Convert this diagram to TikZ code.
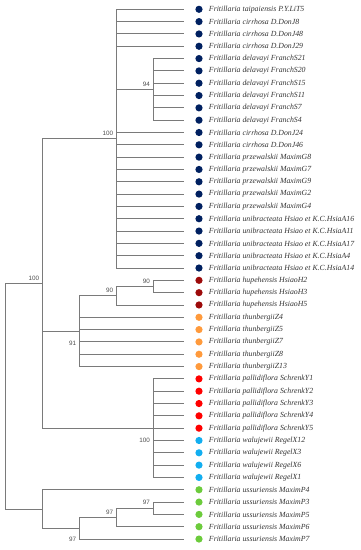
\documentclass[tikz,border=0pt]{standalone}
\usepackage{fontspec}
\setmainfont{Liberation Serif}
\newfontfamily\bootfont{Liberation Sans}
\usepackage{tikz}
\usetikzlibrary{positioning}

\definecolor{navyclade}{HTML}{002060}
\definecolor{darkredclade}{HTML}{9C0A0A}
\definecolor{orangeclade}{HTML}{FF9A3C}
\definecolor{redclade}{HTML}{FF0000}
\definecolor{skyclade}{HTML}{12AEF0}
\definecolor{greenclade}{HTML}{6CCB3C}
\definecolor{branchgray}{HTML}{7A7A7A}

\begin{document}
\begin{tikzpicture}[x=1pt,y=-12.32pt,
  branch/.style={draw=branchgray,line width=0.9pt},
  tipdot/.style={circle,inner sep=0pt,minimum size=7.2pt},
  taxon/.style={anchor=west,inner sep=0pt,font=\fontsize{7.8}{9}\selectfont\itshape,text=black!80},
  boot/.style={font=\bootfont\fontsize{6.3}{7}\selectfont,text=black!70,inner sep=0pt}]
  \useasboundingbox (0,0.245) rectangle (361,44.89);
  % internal nodes
  \coordinate (R) at (5.3,32.406);
  \coordinate (A) at (42.3,23.25);
  \coordinate (B) at (116.3,11.5);
  \coordinate (D) at (153,7.5);
  \coordinate (HT) at (79.3,27.125);
  \coordinate (Hn) at (116.3,24.25);
  \coordinate (HH) at (153,23.5);
  \coordinate (PW) at (153,35);
  \coordinate (U) at (42.3,41.5625);
  \coordinate (U1) at (79.3,43.125);
  \coordinate (U2) at (116.3,42.25);
  \coordinate (U3) at (153,41.5);
  \foreach \a/\b in {R/A,R/U,A/B,A/HT,A/PW,B/D,HT/Hn,Hn/HH,U/U1,U1/U2,U2/U3}
    \draw[branch] (\a) |- (\b);
  % tips
  \foreach \i/\nm/\col/\up in {
    1/{taipaiensis P.Y.LiT5}/navyclade/B,
    2/{cirrhosa D.DonJ8}/navyclade/B,
    3/{cirrhosa D.DonJ48}/navyclade/B,
    4/{cirrhosa D.DonJ29}/navyclade/B,
    5/{delavayi FranchS21}/navyclade/D,
    6/{delavayi FranchS20}/navyclade/D,
    7/{delavayi FranchS15}/navyclade/D,
    8/{delavayi FranchS11}/navyclade/D,
    9/{delavayi FranchS7}/navyclade/D,
    10/{delavayi FranchS4}/navyclade/D,
    11/{cirrhosa D.DonJ24}/navyclade/B,
    12/{cirrhosa D.DonJ46}/navyclade/B,
    13/{przewalskii MaximG8}/navyclade/B,
    14/{przewalskii MaximG7}/navyclade/B,
    15/{przewalskii MaximG9}/navyclade/B,
    16/{przewalskii MaximG2}/navyclade/B,
    17/{przewalskii MaximG4}/navyclade/B,
    18/{unibracteata Hsiao et K.C.HsiaA16}/navyclade/B,
    19/{unibracteata Hsiao et K.C.HsiaA11}/navyclade/B,
    20/{unibracteata Hsiao et K.C.HsiaA17}/navyclade/B,
    21/{unibracteata Hsiao et K.C.HsiaA4}/navyclade/B,
    22/{unibracteata Hsiao et K.C.HsiaA14}/navyclade/B,
    23/{hupehensis HsiaoH2}/darkredclade/HH,
    24/{hupehensis HsiaoH3}/darkredclade/HH,
    25/{hupehensis HsiaoH5}/darkredclade/Hn,
    26/{thunbergiiZ4}/orangeclade/HT,
    27/{thunbergiiZ5}/orangeclade/HT,
    28/{thunbergiiZ7}/orangeclade/HT,
    29/{thunbergiiZ8}/orangeclade/HT,
    30/{thunbergiiZ13}/orangeclade/HT,
    31/{pallidiflora SchrenkY1}/redclade/PW,
    32/{pallidiflora SchrenkY2}/redclade/PW,
    33/{pallidiflora SchrenkY3}/redclade/PW,
    34/{pallidiflora SchrenkY4}/redclade/PW,
    35/{pallidiflora SchrenkY5}/redclade/PW,
    36/{walujewii RegelX12}/skyclade/PW,
    37/{walujewii RegelX3}/skyclade/PW,
    38/{walujewii RegelX6}/skyclade/PW,
    39/{walujewii RegelX1}/skyclade/PW,
    40/{ussuriensis MaximP4}/greenclade/U,
    41/{ussuriensis MaximP3}/greenclade/U3,
    42/{ussuriensis MaximP5}/greenclade/U3,
    43/{ussuriensis MaximP6}/greenclade/U2,
    44/{ussuriensis MaximP7}/greenclade/U1}
  {
    \node[tipdot,fill=\col] (d\i) at (199,\i) {};
    \node[taxon,right=6pt of d\i] (n\i) {Fritillaria \nm};
    \draw[branch,shorten >=11pt] (\up) |- (d\i);
  }
  % bootstrap values
  \node[boot,anchor=south east] (bA) at ([xshift=-3pt,yshift=3pt]A) {100};
  \node[boot,anchor=south east] (bB) at ([xshift=-3pt,yshift=3pt]B) {100};
  \node[boot,anchor=south east] (bD) at ([xshift=-3pt,yshift=3pt]D) {94};
  \node[boot,anchor=south east] (bHn) at ([xshift=-3pt,yshift=3pt]Hn) {90};
  \node[boot,anchor=south east] (bHH) at ([xshift=-3pt,yshift=3pt]HH) {90};
  \node[boot,anchor=south east] (bU3) at ([xshift=-3pt,yshift=3pt]U3) {97};
  \node[boot,anchor=south east] (bU2) at ([xshift=-3pt,yshift=3pt]U2) {97};
  \node[boot,anchor=north east] (bHT) at ([xshift=-3pt,yshift=-10pt]HT) {91};
  \node[boot,anchor=north east] (bPW) at ([xshift=-3pt,yshift=-10pt]PW) {100};
  \node[boot,anchor=north east] (bU1) at ([xshift=-3pt,yshift=-9pt]U1) {97};
\end{tikzpicture}
\end{document}
